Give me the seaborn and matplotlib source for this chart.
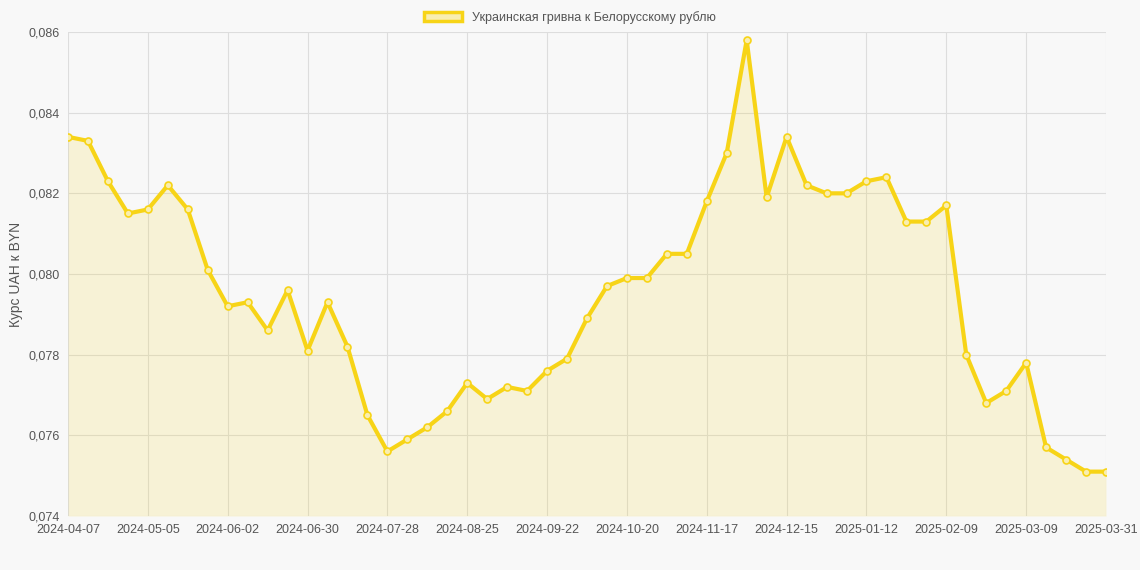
import numpy as np
import pandas as pd
import matplotlib
matplotlib.use('Agg')
import matplotlib.pyplot as plt
import seaborn as sns
from matplotlib.patches import Patch

# weekly dates, last one is 2025-03-31
dates = list(pd.date_range("2024-04-07", periods=52, freq="7D").strftime("%Y-%m-%d")) + ["2025-03-31"]
rates = [0.0834, 0.0833, 0.0823, 0.0815, 0.0816, 0.0822, 0.0816, 0.0801, 0.0792, 0.0793,
         0.0786, 0.0796, 0.0781, 0.0793, 0.0782, 0.0765, 0.0756, 0.0759, 0.0762, 0.0766,
         0.0773, 0.0769, 0.0772, 0.0771, 0.0776, 0.0779, 0.0789, 0.0797, 0.0799, 0.0799,
         0.0805, 0.0805, 0.0818, 0.0830, 0.0858, 0.0819, 0.0834, 0.0822, 0.0820, 0.0820,
         0.0823, 0.0824, 0.0813, 0.0813, 0.0817, 0.0780, 0.0768, 0.0771, 0.0778, 0.0757,
         0.0754, 0.0751, 0.0751]
label = "Украинская гривна к Белорусскому рублю"

BG = "#f8f8f8"
LINE = "#f7d417"

sns.set_style("whitegrid")
plt.rcParams['font.family'] = ['Liberation Sans', 'DejaVu Sans']

df = pd.DataFrame({"idx": np.arange(len(rates)), "rate": rates})

fig = plt.figure(figsize=(11.4, 5.7), dpi=100, facecolor=BG)
ax = fig.add_axes([68 / 1140, 1 - 516 / 570, (1106 - 68) / 1140, (516 - 32) / 570])
ax.set_facecolor(BG)

ax.fill_between(df["idx"], rates, 0.074, color=LINE, alpha=0.15, linewidth=0)
sns.lineplot(data=df, x="idx", y="rate", ax=ax, color=LINE, linewidth=3,
             marker="o", markersize=5, markerfacecolor="#f9eeb0",
             markeredgecolor=LINE, markeredgewidth=1.2)

ticks = list(range(0, 52, 4)) + [52]
ax.set_xticks(ticks)
ax.set_xticklabels([dates[i] for i in ticks], fontsize=9, color="#555555")
ax.set_xlim(0, 52)
ax.set_ylim(0.074, 0.086)
ax.set_yticks(np.arange(0.074, 0.0861, 0.002))
ax.set_yticklabels([f"{v:.3f}".replace(".", ",") for v in np.arange(0.074, 0.0861, 0.002)],
                   fontsize=9, color="#555555")
ax.set_xlabel("")
ax.set_ylabel("Курс UAH к BYN", fontsize=10, color="#555555")
ax.grid(True, color="#dddddd", linewidth=0.8)
for s in ax.spines.values():
    s.set_visible(False)
ax.tick_params(length=0, pad=6)

handle = Patch(facecolor="#f9eeb0", edgecolor=LINE, linewidth=2.5)
fig.legend([handle], [label], loc="upper center", bbox_to_anchor=(0.5, 1.0),
           frameon=False, fontsize=9, handlelength=3, labelcolor="#555555")

fig.savefig("out.png", dpi=100, facecolor=BG)
